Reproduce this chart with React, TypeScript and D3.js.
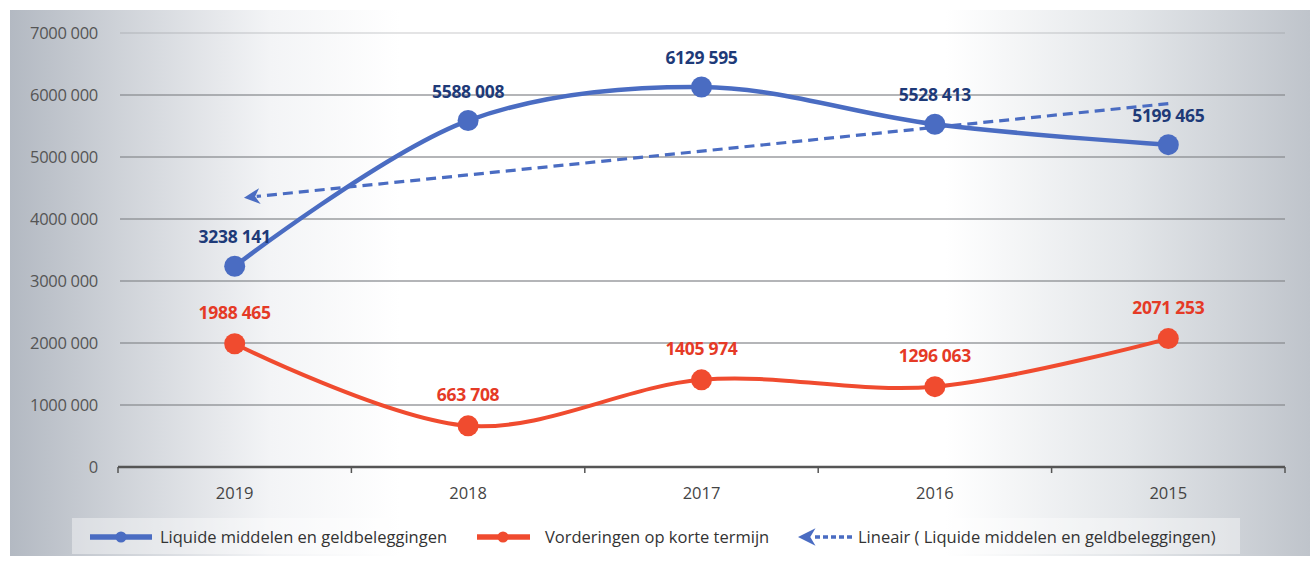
import * as d3 from "d3";

const years = ["2019", "2018", "2017", "2016", "2015"];
const liquide = [3238141, 5588008, 6129595, 5528413, 5199465];
const vorderingen = [1988465, 663708, 1405974, 1296063, 2071253];
const yTicks = [0, 1000000, 2000000, 3000000, 4000000, 5000000, 6000000, 7000000];

const W = 1314;
const H = 562;
const BLUE = "#4a6cc2";
const BLUE_LABEL = "#1e3a78";
const RED = "#f04b2f";
const RED_LABEL = "#e53a26";
const FONT = "'Open Sans', 'Noto Sans', sans-serif";

// format like "3238 141"
const fmt = (v: number) => {
  const s = String(Math.round(v));
  return s.length > 3 ? s.slice(0, s.length - 3) + " " + s.slice(-3) : s;
};

export default function App() {
  const x = d3.scaleBand<string>().domain(years).range([118, 1285]);
  const y = d3.scaleLinear().domain([0, 7000000]).range([467, 33]);
  const cx = (d: string) => (x(d) ?? 0) + x.bandwidth() / 2;

  const line = d3
    .line<number>()
    .x((_, i) => cx(years[i]))
    .y((d) => y(d))
    .curve(d3.curveCatmullRom.alpha(0.5));

  // linear trend over the blue series
  const idx = liquide.map((_, i) => i + 1);
  const mx = d3.mean(idx)!;
  const my = d3.mean(liquide)!;
  const slope =
    d3.sum(idx.map((xi, i) => (xi - mx) * (liquide[i] - my))) /
    d3.sum(idx.map((xi) => (xi - mx) ** 2));
  const trend = (i: number) => my + slope * (i + 1 - mx);
  const tStart = { x: cx(years[years.length - 1]), y: y(trend(years.length - 1)) + 3 };
  const tEnd = { x: cx(years[0]) + 22, y: y(trend(0)) };

  const boundaries = [...years.map((d) => x(d) ?? 0), 1285];

  return (
    <svg width={W} height={H} style={{ position: "absolute", left: 0, top: 0 }}>
      <defs>
        <linearGradient id="bg" x1="0" x2="1" y1="0" y2="0">
          <stop offset="0" stopColor="#b3b9c2" />
          <stop offset="0.08" stopColor="#cdd1d7" />
          <stop offset="0.2" stopColor="#f3f4f6" />
          <stop offset="0.3" stopColor="#ffffff" />
          <stop offset="0.72" stopColor="#ffffff" />
          <stop offset="0.86" stopColor="#e3e6e9" />
          <stop offset="1" stopColor="#bfc4cb" />
        </linearGradient>
        <marker id="arrow" viewBox="0 0 10 10" refX="2" refY="5" markerWidth="5" markerHeight="5" orient="auto-start-reverse">
          <path d="M0,0 L10,5 L0,10 L3,5 Z" fill={BLUE} />
        </marker>
      </defs>
      <rect width={W} height={H} fill="#ffffff" />
      <rect x={10} y={10} width={1300} height={546} fill="url(#bg)" />

      {/* grid */}
      {yTicks.map((t) => (
        <g key={t}>
          {t > 0 && (
            <line x1={120} x2={1285} y1={y(t)} y2={y(t)} stroke="#8a8d91" strokeWidth={1.5} opacity={t === 7000000 ? 0.3 : 0.85} />
          )}
          <text x={98} y={y(t)} dy="0.35em" textAnchor="end" fontFamily={FONT} fontSize={16.5} fill="#555" letterSpacing={-0.3}>
            {fmt(t)}
          </text>
        </g>
      ))}

      {/* x axis */}
      <line x1={118} x2={1285} y1={467} y2={467} stroke="#555" strokeWidth={2.5} />
      {boundaries.map((b, i) => (
        <line key={i} x1={b} x2={b} y1={467} y2={473} stroke="#555" strokeWidth={1.5} />
      ))}
      {years.map((d) => (
        <text key={d} x={cx(d)} y={499} textAnchor="middle" fontFamily={FONT} fontSize={16.5} fill="#444">
          {d}
        </text>
      ))}

      {/* trend */}
      <line
        x1={tStart.x}
        y1={tStart.y}
        x2={tEnd.x}
        y2={tEnd.y}
        stroke={BLUE}
        strokeWidth={3.2}
        strokeDasharray="10,6"
        markerEnd="url(#arrow)"
      />

      {/* series */}
      <path d={line(liquide) ?? ""} fill="none" stroke={BLUE} strokeWidth={4.5} />
      <path d={line(vorderingen) ?? ""} fill="none" stroke={RED} strokeWidth={4} />
      {liquide.map((v, i) => (
        <g key={"b" + i}>
          <circle cx={cx(years[i])} cy={y(v)} r={10.5} fill={BLUE} />
          <text x={cx(years[i])} y={y(v) - 23} textAnchor="middle" fontFamily={FONT} fontWeight="bold" fontSize={17.5} fill={BLUE_LABEL} letterSpacing={-0.3}>
            {fmt(v)}
          </text>
        </g>
      ))}
      {vorderingen.map((v, i) => (
        <g key={"r" + i}>
          <circle cx={cx(years[i])} cy={y(v)} r={10.5} fill={RED} />
          <text x={cx(years[i])} y={y(v) - 25} textAnchor="middle" fontFamily={FONT} fontWeight="bold" fontSize={17.5} fill={RED_LABEL} letterSpacing={-0.3}>
            {fmt(v)}
          </text>
        </g>
      ))}

      {/* legend */}
      <rect x={72} y={518} width={1168} height={36} fill="#ffffff" opacity={0.4} />
      <g fontFamily={FONT} fontSize={16.5} fill="#333">
        <line x1={90} x2={152} y1={537} y2={537} stroke={BLUE} strokeWidth={5.5} />
        <circle cx={121} cy={537} r={5.5} fill={BLUE} />
        <text x={160} y={537} dy="0.35em">Liquide middelen en geldbeleggingen</text>
        <line x1={477} x2={530} y1={537} y2={537} stroke={RED} strokeWidth={5.5} />
        <circle cx={503} cy={537} r={5.5} fill={RED} />
        <text x={545} y={537} dy="0.35em">Vorderingen op korte termijn</text>
        <line x1={852} x2={812} y1={537} y2={537} stroke={BLUE} strokeWidth={3.5} strokeDasharray="5,3" markerEnd="url(#arrow)" />
        <text x={858} y={537} dy="0.35em">Lineair ( Liquide middelen en geldbeleggingen)</text>
      </g>
    </svg>
  );
}
